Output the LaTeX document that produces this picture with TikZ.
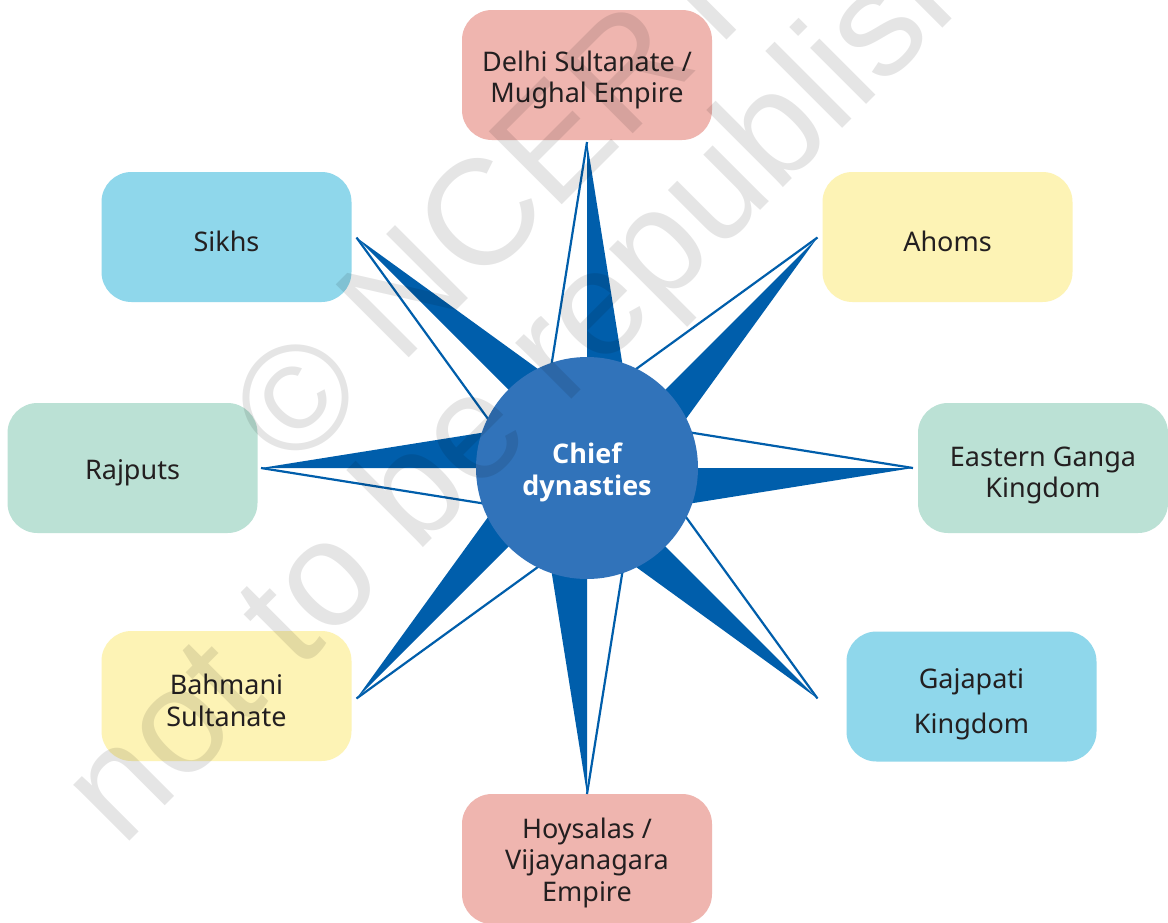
\documentclass[tikz,border=0pt]{standalone}
\usepackage{fontspec}
\setmainfont{Noto Sans}
\newfontfamily\wmfont{Liberation Sans}
\newfontfamily\corefont{Open Sans}
\usetikzlibrary{calc}
\definecolor{raybl}{HTML}{005EAB}
\definecolor{circbl}{HTML}{3173BA}
\definecolor{pinkb}{HTML}{EFB5AF}
\definecolor{blueb}{HTML}{8FD7EB}
\definecolor{yelb}{HTML}{FDF3B5}
\definecolor{greenb}{HTML}{BBE1D5}
\definecolor{txtc}{HTML}{231F20}
\begin{document}
\begin{tikzpicture}[x=1pt,y=-1pt,
  box/.style={rounded corners=30pt, minimum width=250pt, minimum height=130pt, inner sep=0pt, draw=none},
  lbl/.style={text=txtc, align=center, font=\fontsize{27}{31.5}\selectfont, inner sep=0pt},
  rayline/.style={draw=raybl, line width=2.2pt},
  wm/.style={font=\wmfont\fontsize{150}{150}\selectfont, text=black, text opacity=0.1, inner sep=0pt, rotate=45, anchor=base west}]
\useasboundingbox (0,0) rectangle (1168,922);
\clip (0,0) rectangle (1168,922);
\fill[white] (0,0) rectangle (1168,922);
% boxes
\node[box, fill=pinkb]  (delhi)    at (587,75)    {};
\node[box, fill=blueb]  (sikhs)    at (226.5,237) {};
\node[box, fill=yelb]   (ahoms)    at (947.5,237) {};
\node[box, fill=greenb] (rajputs)  at (132.5,468) {};
\node[box, fill=greenb] (ganga)    at (1043,468)  {};
\node[box, fill=yelb]   (bahmani)  at (226.5,696) {};
\node[box, fill=blueb]  (gajapati) at (971.5,696.5) {};
\node[box, fill=pinkb]  (hoysala)  at (587,859)   {};
% labels
\node[lbl] (tdelhi) at ($(delhi)+(0,5)$) {Delhi Sultanate /\\Mughal Empire};
\node[lbl] (tsikhs) at ($(sikhs)+(0,4)$) {Sikhs};
\node[lbl] (tahoms) at ($(ahoms)+(0,4)$) {Ahoms};
\node[lbl] (trajputs) at ($(rajputs)+(0,5)$) {Rajputs};
\node[lbl] (tganga) at ($(ganga)+(0,7.5)$) {Eastern Ganga\\Kingdom};
\node[lbl] (tbahmani) at ($(bahmani)+(0,4.5)$) {Bahmani\\Sultanate};
\node[lbl, font=\fontsize{27}{45}\selectfont] (tgajapati) at ($(gajapati)+(0,8)$) {Gajapati\\Kingdom};
\node[lbl] (thoysala) at ($(hoysala)+(0,3.5)$) {Hoysalas /\\Vijayanagara\\Empire};
% star
\coordinate (c) at (587,468);
\coordinate (tN) at (587,142);
\coordinate (tNE) at (817.5,237.5);
\coordinate (tE) at (913,468);
\coordinate (tSE) at (817.5,698.5);
\coordinate (tS) at (587,794);
\coordinate (tSW) at (356.5,698.5);
\coordinate (tW) at (261,468);
\coordinate (tNW) at (356.5,237.5);
\foreach \t in {tN,tNE,tE,tSE,tS,tSW,tW,tNW}{
  \fill[raybl] (\t) -- (c) -- ($(c)!52pt!-90:(\t)$) -- cycle;
  \draw[rayline] (\t) -- ($(c)!52pt!90:(\t)$);
}
\node[circle, fill=circbl, minimum size=222pt, inner sep=0pt] (core) at (c) {};
\node[text=white, align=center, inner sep=0pt, font=\corefont\bfseries\fontsize{27}{32}\selectfont] (tcore) at ($(c)+(0,4.5)$) {Chief\\dynasties};
% watermark
\node[wm] (wm1) at (293,474) {© NCERT};
\node[wm] (wm2) at (122,849) {not to be republished};
\end{tikzpicture}
\end{document}
